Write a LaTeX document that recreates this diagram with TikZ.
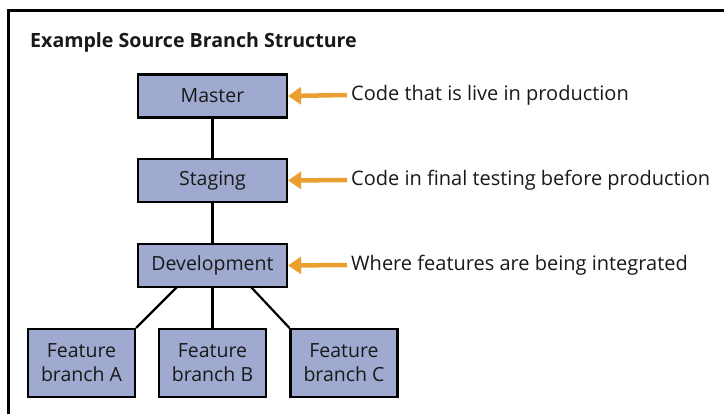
\documentclass[tikz,border=0pt]{standalone}
\usepackage{fontspec}
\setmainfont{Open Sans}
\usetikzlibrary{arrows.meta,calc}
\definecolor{boxfill}{RGB}{160,170,208}
\definecolor{arrorange}{RGB}{234,160,48}
\definecolor{txt}{RGB}{25,25,25}
\tikzset{
  branchbox/.style={draw=black, line width=2.2bp, fill=boxfill, text=txt, inner sep=0pt,
    font=\fontsize{19.5bp}{24bp}\selectfont, align=center},
  mainbox/.style={branchbox, minimum width=149bp, minimum height=43bp},
  featbox/.style={branchbox, minimum width=107bp, minimum height=68bp},
  link/.style={line width=2.2bp, draw=black},
  pointer/.style={draw=arrorange, line width=4.5bp, -{Triangle[length=13bp,width=17bp]}},
  note/.style={anchor=west, inner sep=0pt, text=txt, font=\fontsize{20bp}{24bp}\selectfont}
}
\begin{document}
\begin{tikzpicture}[x=1bp,y=-1bp]
\useasboundingbox (0,0) rectangle (724,414);
\fill[white] (0,0) rectangle (724,414);
\draw[line width=2.6bp] (8.5,414) -- (8.5,10.5) -- (724,10.5);
\node[anchor=base west, inner sep=0pt, text=txt, font=\fontsize{19.6bp}{24bp}\selectfont\bfseries] (title) at (30,47) {Example Source Branch Structure};

\node[mainbox] (master) at (212.5,96) {Master};
\node[mainbox] (staging) at (212.5,180.5) {Staging};
\node[mainbox] (dev) at (212.5,265.5) {Development};
\node[featbox] (fa) at (81.5,363) {Feature\\branch A};
\node[featbox] (fb) at (212.5,363) {Feature\\branch B};
\node[featbox] (fc) at (344,363) {Feature\\branch C};

\coordinate (da) at (177,287);
\coordinate (dc) at (251,287);
\draw[link] (master.south) -- (staging.north);
\draw[link] (staging.south) -- (dev.north);
\draw[link] (dev.south) -- (fb.north);
\draw[link] (da) -- (fa.north east);
\draw[link] (dc) -- (fc.north west);

\node[note] (n1) at (351,95) {Code that is live in production};
\node[note] (n2) at (351,180) {Code in final testing before production};
\node[note] (n3) at (351,265) {Where features are being integrated};
\draw[pointer] ($(n1.west)+(-4,0)$) -- (master.east);
\draw[pointer] ($(n2.west)+(-4,0)$) -- (staging.east);
\draw[pointer] ($(n3.west)+(-4,0)$) -- (dev.east);
\end{tikzpicture}
\end{document}
